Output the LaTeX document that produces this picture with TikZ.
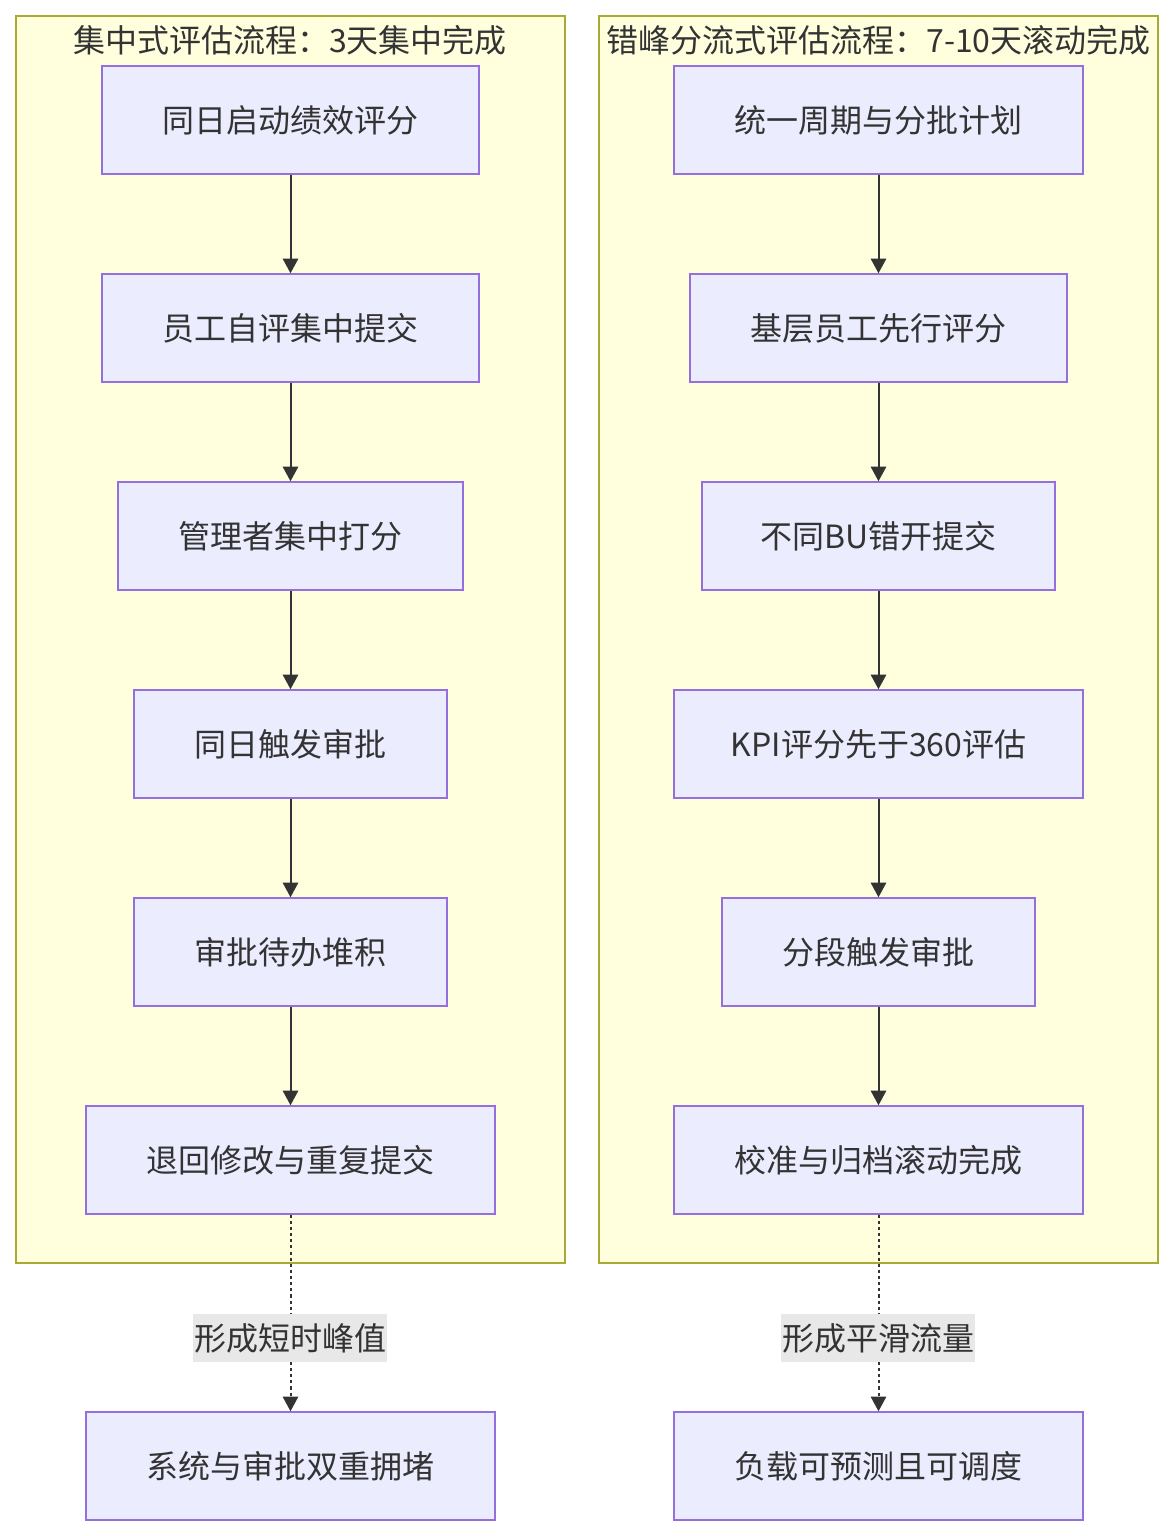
\documentclass[tikz,border=0pt]{standalone}
\usepackage{fontspec}
\setmainfont{Noto Sans CJK SC}
\usetikzlibrary{arrows.meta}
\definecolor{clfill}{HTML}{FFFFDE}
\definecolor{clline}{HTML}{AAAA33}
\definecolor{ndfill}{HTML}{ECECFF}
\definecolor{ndline}{HTML}{9370DB}
\definecolor{txt}{HTML}{333333}
\definecolor{lblbg}{HTML}{E8E8E8}
\tikzset{
  cluster/.style={draw=clline, fill=clfill, line width=1.2pt},
  proc/.style={draw=ndline, fill=ndfill, line width=1.1pt, text=txt, font=\fontsize{24}{29}\selectfont, inner sep=0pt},
  ttl/.style={text=txt, font=\fontsize{24}{29}\selectfont, inner sep=0pt},
  flow/.style={draw=txt, line width=1.5pt, -{Triangle[length=11pt,width=11.5pt]}},
  dflow/.style={flow, dash pattern=on 2.3pt off 2.3pt},
  lbl/.style={fill=lblbg, text=txt, font=\fontsize{24}{29}\selectfont, inner xsep=1pt, inner ysep=0pt, minimum height=36pt}
}
\newcommand{\mybox}[6]{\node[proc, minimum width={(#3-#2)*0.75pt}, minimum height={(#5-#4)*0.75pt}] (#1) at ({(#2+#3)/2},{(#4+#5)/2}) {#6};}
\begin{document}
\begin{tikzpicture}[x=0.75pt,y=-0.75pt]
\useasboundingbox (0,0) rectangle (1173,1536);
\fill[white] (0,0) rectangle (1173,1536);
% clusters
\draw[cluster] (16,16) rectangle (565,1263);
\draw[cluster] (599,16) rectangle (1158,1263);
\node[ttl] (t1) at (290,40) {集中式评估流程：3天集中完成};
\node[ttl] (t2) at (878.5,40) {错峰分流式评估流程：7-10天滚动完成};
% left nodes
\mybox{a1}{102}{479}{66}{174}{同日启动绩效评分}
\mybox{a2}{102}{479}{274}{382}{员工自评集中提交}
\mybox{a3}{118}{463}{482}{590}{管理者集中打分}
\mybox{a4}{134}{447}{690}{798}{同日触发审批}
\mybox{a5}{134}{447}{898}{1006}{审批待办堆积}
\mybox{a6}{86}{495}{1106}{1214}{退回修改与重复提交}
\mybox{a7}{86}{495}{1412}{1520}{系统与审批双重拥堵}
% right nodes
\mybox{b1}{674}{1083}{66}{174}{统一周期与分批计划}
\mybox{b2}{690}{1067}{274}{382}{基层员工先行评分}
\mybox{b3}{702}{1055}{482}{590}{不同BU错开提交}
\mybox{b4}{674}{1083}{690}{798}{KPI评分先于360评估}
\mybox{b5}{722}{1035}{898}{1006}{分段触发审批}
\mybox{b6}{674}{1083}{1106}{1214}{校准与归档滚动完成}
\mybox{b7}{674}{1083}{1412}{1520}{负载可预测且可调度}
% edges
\draw[flow] (a1) -- (a2);
\draw[flow] (a2) -- (a3);
\draw[flow] (a3) -- (a4);
\draw[flow] (a4) -- (a5);
\draw[flow] (a5) -- (a6);
\draw[dflow] (a6) -- (a7);
\draw[flow] (b1) -- (b2);
\draw[flow] (b2) -- (b3);
\draw[flow] (b3) -- (b4);
\draw[flow] (b4) -- (b5);
\draw[flow] (b5) -- (b6);
\draw[dflow] (b6) -- (b7);
\node[lbl] (l1) at (290,1338) {形成短时峰值};
\node[lbl] (l2) at (878,1338) {形成平滑流量};
\end{tikzpicture}
\end{document}
